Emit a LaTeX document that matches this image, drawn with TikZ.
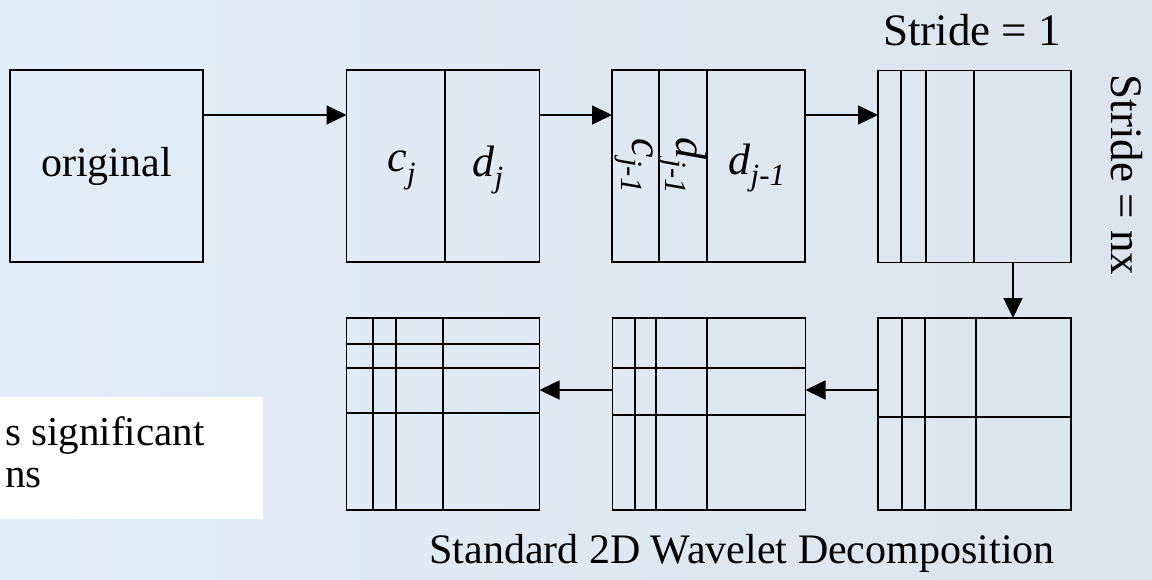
\documentclass[tikz,border=0pt]{standalone}
\usepackage{fontspec}
\setmainfont{Liberation Serif}
\usetikzlibrary{arrows.meta, positioning}

\newcommand{\wsub}[2]{\textit{#1}\textsubscript{\textit{#2}}}

\begin{document}
\begin{tikzpicture}[
    x=1pt, y=-1pt,
    panel/.style={draw, line width=1.5pt, minimum width=193pt, minimum height=192pt, inner sep=0pt, outer sep=0pt},
    split/.style={line width=1.5pt},
    arrow/.style={-{Triangle[length=20pt, width=19pt]}, line width=1.5pt},
    txt/.style={font=\fontsize{42}{48}\selectfont, inner sep=0pt},
    coef/.style={font=\fontsize{44}{50}\selectfont, inner sep=0pt}
]

% background
\shade[left color={rgb,255:red,225;green,237;blue,248}, right color={rgb,255:red,220;green,229;blue,237}] (0,0) rectangle (1152,579);
\useasboundingbox (0,0) rectangle (1152,579);

% top row
\node[panel, txt] (orig) at (106.5,166) {original};
\node[panel] (cd) at (443,166) {};
\node[panel] (cdd) at (708.5,166) {};
\node[panel] (rows) at (974.5,166.5) {};

% bottom row (right to left)
\node[panel] (cols) at (974.5,414) {};
\node[panel] (cols2) at (709,414) {};
\node[panel] (full) at (443,414) {};

% dividers
\draw[split] (445,70) -- (445,262);
\foreach \x in {659,707} \draw[split] (\x,70) -- (\x,262);
\foreach \x in {901,926,974} \draw[split] (\x,70) -- (\x,263);
\foreach \x in {902,925,976} \draw[split] (\x,318) -- (\x,510);
\draw[split] (878,417) -- (1071,417);
\foreach \x in {635,656,707} \draw[split] (\x,318) -- (\x,510);
\foreach \y in {368,415} \draw[split] (613,\y) -- (805,\y);
\foreach \x in {373,396,443} \draw[split] (\x,318) -- (\x,510);
\foreach \y in {344,368,413} \draw[split] (347,\y) -- (539,\y);

% coefficients
\node[coef] (cj) at (402,170) {\wsub{c}{j}};
\node[coef] (dj) at (488,170) {\wsub{d}{j}};
\node[coef, rotate=-90] (cj1) at (634,166) {\wsub{c}{j-1}};
\node[coef, rotate=-90] (dj1) at (683,166) {\wsub{d}{j-1}};
\node[coef] (dj1b) at (757,168) {\wsub{d}{j-1}};

% arrows
\draw[arrow] ([yshift=51pt]orig.east) -- ([yshift=51pt]cd.west);
\draw[arrow] ([yshift=51pt]cd.east) -- ([yshift=51pt]cdd.west);
\draw[arrow] ([yshift=51pt]cdd.east) -- ([yshift=51.5pt]rows.west);
\draw[arrow] ([xshift=38.5pt]rows.south) -- ([xshift=38.5pt]cols.north);
\draw[arrow] ([yshift=24pt]cols.west) -- ([yshift=24pt]cols2.east);
\draw[arrow] ([yshift=24pt]cols2.west) -- ([yshift=24pt]full.east);

% labels
\node[txt, font=\fontsize{45}{50}\selectfont] (s1) at (972,30) {Stride = 1};
\node[txt, font=\fontsize{45}{50}\selectfont, rotate=-90] (snx) at (1127,175) {Stride = nx};
\node[txt] (title) at (742,553) {Standard 2D Wavelet Decomposition};

% note box
\fill[white] (0,397) rectangle (263,519);
\node[txt, anchor=base west, font=\fontsize{41}{46}\selectfont] (n1) at (5,445) {s significant};
\node[txt, anchor=base west, font=\fontsize{41}{46}\selectfont] (n2) at (5,487) {ns};
\end{tikzpicture}
\end{document}
